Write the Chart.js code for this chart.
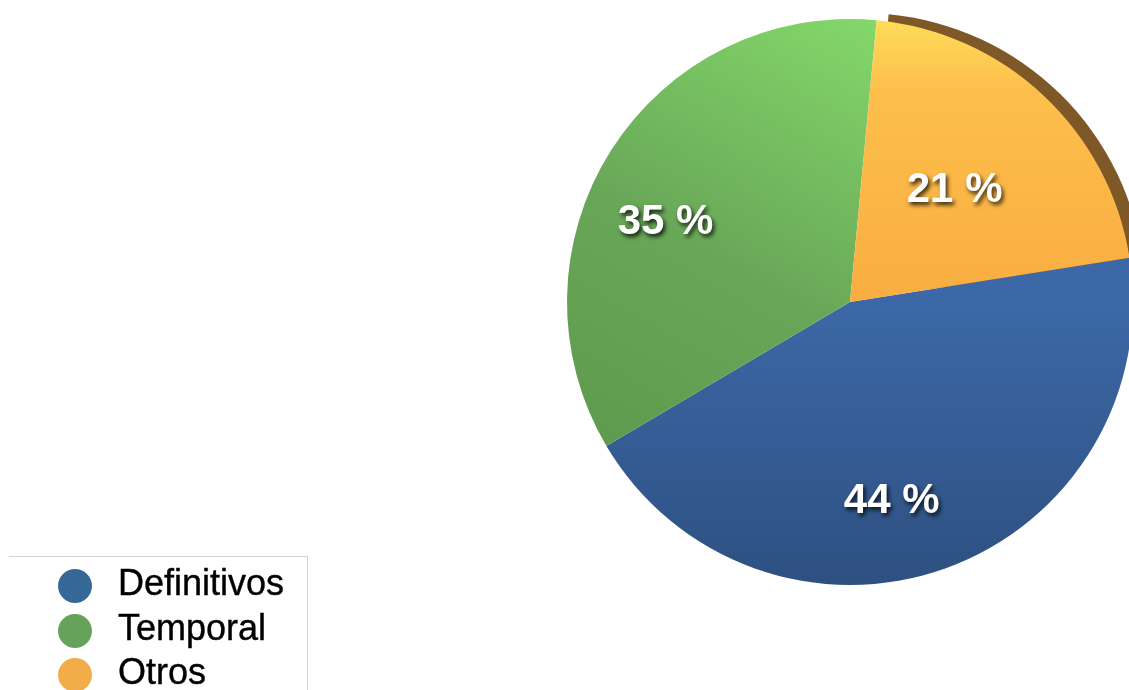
<!DOCTYPE html>
<html>
<head>
<meta charset="utf-8">
<script src="https://cdn.jsdelivr.net/npm/chart.js@4/dist/chart.umd.min.js"></script>
<style>
  html, body { margin: 0; padding: 0; background: #fff; overflow: hidden; }
  #wrap { position: relative; width: 1145px; height: 690px; }
  #legend {
    position: absolute; left: 9px; top: 556px; width: 298px; height: 134px;
    border-top: 1px solid #d4d4d4; border-right: 1px solid #d4d4d4;
    font-family: "Liberation Sans", Arial, sans-serif; font-size: 36px; color: #000;
  }
  .item { position: absolute; left: 49px; height: 40px; }
  .dot { position: absolute; left: 0; top: 3px; width: 34px; height: 34px; border-radius: 50%; }
  .txt { position: absolute; left: 60px; top: -3px; white-space: nowrap; line-height: 40px; -webkit-text-stroke: 0.4px #000; }
</style>
</head>
<body>
<div id="wrap">
  <canvas id="pie" width="1145" height="690"></canvas>
  <div id="legend"></div>
</div>
<script>
// Data
const labels = ['Definitivos', 'Temporal', 'Otros'];
const values = [44, 35, 21];

// Colors
const legendColors = ['#356897', '#67a25a', '#f2ad4a'];
// gradient per slice: [x0, y0, x1, y1] as fractions of the chart area, then colour stops
const sliceGrad = [
  { line: [0.5, 0.5, 0.5, 1.0], stops: [[0, '#3c68a7'], [1, '#2e5081']] },
  { line: [0.55, 0.0, 0.1, 0.8], stops: [[0, '#84d86a'], [0.55, '#69a758'], [1, '#5e9a4d']] },
  { line: [0.5, 0.0, 0.5, 0.5], stops: [[0, '#ffdc5a'], [0.25, '#fdbf4b'], [1, '#f9ad41']] }
];
// label placement: fraction of radius, angle shift in degrees
const labelRadius = [0.72, 0.71, 0.54];
const labelShift = [8, -9, 0];

function sliceColor(ctx) {
  const chart = ctx.chart;
  const a = chart.chartArea;
  const def = sliceGrad[ctx.dataIndex];
  if (!a) return def.stops[def.stops.length - 1][1];
  const w = a.right - a.left, h = a.bottom - a.top;
  const l = def.line;
  const g = chart.ctx.createLinearGradient(a.left + l[0] * w, a.top + l[1] * h, a.left + l[2] * w, a.top + l[3] * h);
  def.stops.forEach(s => g.addColorStop(s[0], s[1]));
  return g;
}

// brown rim behind the top slice (3D edge look)
const rimPlugin = {
  id: 'rim',
  beforeDatasetsDraw(chart) {
    const arc = chart.getDatasetMeta(0).data[2];
    if (!arc) return;
    const c = chart.ctx;
    c.save();
    c.beginPath();
    c.moveTo(arc.x + 12, arc.y - 6);
    c.arc(arc.x + 12, arc.y - 6, arc.outerRadius, arc.startAngle, arc.endAngle + 0.05);
    c.closePath();
    c.fillStyle = '#7e5827';
    c.fill();
    c.restore();
  }
};

// white percentage labels with dark shadow
const labelPlugin = {
  id: 'pctLabels',
  afterDatasetsDraw(chart) {
    const c = chart.ctx;
    const meta = chart.getDatasetMeta(0);
    c.save();
    c.font = 'bold 42px "Liberation Sans", Arial, sans-serif';
    c.fillStyle = '#fff';
    c.textAlign = 'center';
    c.textBaseline = 'middle';
    c.shadowColor = 'rgba(0,0,0,0.8)';
    c.shadowBlur = 4;
    c.shadowOffsetX = 2;
    c.shadowOffsetY = 3;
    meta.data.forEach((arc, i) => {
      const mid = (arc.startAngle + arc.endAngle) / 2 + labelShift[i] * Math.PI / 180;
      const r = arc.outerRadius * labelRadius[i];
      c.fillText(values[i] + ' %', arc.x + Math.cos(mid) * r, arc.y + Math.sin(mid) * r);
    });
    c.restore();
  }
};

new Chart(document.getElementById('pie'), {
  type: 'pie',
  data: {
    labels: labels,
    datasets: [{
      data: values,
      backgroundColor: sliceColor,
      borderWidth: 0,
      hoverOffset: 0
    }]
  },
  options: {
    responsive: false,
    animation: false,
    rotation: 81,
    layout: { padding: { left: 567, right: 12, top: 19, bottom: 105 } },
    plugins: {
      legend: { display: false },
      tooltip: { enabled: false }
    }
  },
  plugins: [rimPlugin, labelPlugin]
});

// HTML legend
const legendEl = document.getElementById('legend');
labels.forEach((name, i) => {
  const item = document.createElement('div');
  item.className = 'item';
  item.style.top = (9 + i * 44.5) + 'px';
  item.innerHTML = '<span class="dot" style="background:' + legendColors[i] + '"></span><span class="txt">' + name + '</span>';
  legendEl.appendChild(item);
});
</script>
</body>
</html>
